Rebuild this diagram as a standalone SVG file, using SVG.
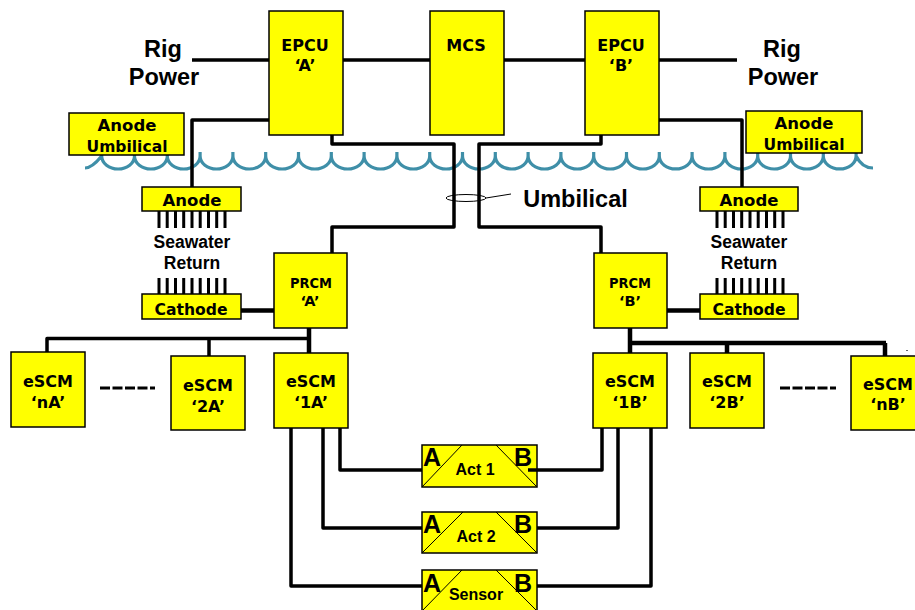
<svg xmlns="http://www.w3.org/2000/svg" width="915" height="610" viewBox="0 0 915 610">
<style>
.b{fill:#ffff00;stroke:#000;stroke-width:1.5}
.c{fill:none;stroke:#000;stroke-width:3.5;stroke-linejoin:round}
.c2{fill:none;stroke:#000;stroke-width:4.5}
.t{fill:none;stroke:#000;stroke-width:3}
.d{fill:none;stroke:#000;stroke-width:1}
.w{fill:none;stroke:#3f8fa8;stroke-width:3.2}
text{font-family:"DejaVu Sans",Verdana,sans-serif;font-weight:bold;text-anchor:middle;fill:#000;font-size:16px}
.h{font-family:"Liberation Sans",Arial,sans-serif}
.xl{font-size:23.500px}
.m{font-size:16px}
.r{font-size:17.500px}
.l{font-size:25px}
.s{font-size:14.500px}
.a{font-size:16.500px}
</style>
<rect width="915" height="610" fill="#fff"/>
<path id="water" class="w" d="M85 168Q92 168 101.700 156V152V156A16.400 13 0 0 0 134.500 156V152V156A16.400 13 0 0 0 167.300 156V152V156A16.400 13 0 0 0 200.100 156V152V156A16.400 13 0 0 0 232.900 156V152V156A16.400 13 0 0 0 265.700 156V152V156A16.400 13 0 0 0 298.500 156V152V156A16.400 13 0 0 0 331.300 156V152V156A16.400 13 0 0 0 364.100 156V152V156A16.400 13 0 0 0 396.900 156V152V156A16.400 13 0 0 0 429.700 156V152V156A16.400 13 0 0 0 462.500 156V152V156A16.400 13 0 0 0 495.300 156V152V156A16.400 13 0 0 0 528.100 156V152V156A16.400 13 0 0 0 560.900 156V152V156A16.400 13 0 0 0 593.700 156V152V156A16.400 13 0 0 0 626.500 156V152V156A16.400 13 0 0 0 659.300 156V152V156A16.400 13 0 0 0 692.100 156V152V156A16.400 13 0 0 0 724.900 156V152V156A16.400 13 0 0 0 757.700 156V152V156A16.400 13 0 0 0 790.500 156V152V156A16.400 13 0 0 0 823.300 156V152V156A16.400 13 0 0 0 856.100 156V152V156Q862 168 873 168"/>
<g id="connectors">
<path class="c" d="M192 60H269M343 60H430M504 60H585M659 60H737"/>
<path class="c" d="M269 120H192V187M659 120H742V187"/>
<path class="c" d="M332 135V144H454V227H332V253M601 135V144H479V227H601V253"/>
<path class="c2" d="M241 310.500H274M667 310.500H700M309 328V353"/>
<path class="c2" d="M630 328V353M630 343H886M727 343V354M885 343V356"/>
<path class="c" d="M47 352V338.500H309M209 338.500V356"/>
<path class="c" d="M340 428V470H422M323 428V528H422M291 428V586H422"/>
<path class="c" d="M528 470H602V428M537 528H618V428M537 586H651V428"/>
<path class="t" d="M159 211V228M167.200 211V228M175.500 211V228M183.700 211V228M192 211V228M200.200 211V228M208.500 211V228M216.700 211V228M225 211V228"/>
<path class="t" d="M159 278V294M167.200 278V294M175.500 278V294M183.700 278V294M192 278V294M200.200 278V294M208.500 278V294M216.700 278V294M225 278V294"/>
<path class="t" d="M717 211V228M725.200 211V228M733.500 211V228M741.700 211V228M750 211V228M758.200 211V228M766.500 211V228M774.700 211V228M783 211V228"/>
<path class="t" d="M717 278V294M725.200 278V294M733.500 278V294M741.700 278V294M750 278V294M758.200 278V294M766.500 278V294M774.700 278V294M783 278V294"/>
<path class="t" d="M100 388H155M780 388H836" stroke-dasharray="10 2.500"/>
<ellipse class="d" cx="466" cy="198" rx="20" ry="3.500"/>
<path class="d" d="M486 198L511 194"/>
</g>
<rect x="906" y="350" width="2" height="1" fill="#666"/>
<text class="h xl" x="163" y="57">Rig</text>
<text class="h xl" x="164" y="85">Power</text>
<text class="h xl" x="782" y="57">Rig</text>
<text class="h xl" x="783" y="85">Power</text>
<text class="h xl" x="575.500" y="207">Umbilical</text>
<g id="epcu-a"><rect class="b" x="269" y="11" width="74" height="124"/><text x="305" y="51">EPCU</text><text x="305" y="71">‘A’</text></g>
<g id="mcs"><rect class="b" x="430" y="11" width="74" height="124"/><text x="466" y="51">MCS</text></g>
<g id="epcu-b"><rect class="b" x="585" y="11" width="74" height="124"/><text x="621" y="51">EPCU</text><text x="621" y="71">‘B’</text></g>
<g id="anode-umb-a"><rect class="b" x="69" y="113" width="115" height="42"/><text class="a" x="127" y="131">Anode</text><text x="127" y="152" textLength="81" lengthAdjust="spacingAndGlyphs">Umbilical</text></g>
<g id="anode-umb-b"><rect class="b" x="746" y="111" width="116" height="42"/><text class="a" x="804" y="129">Anode</text><text x="804" y="150" textLength="81" lengthAdjust="spacingAndGlyphs">Umbilical</text></g>
<g id="anode-a"><rect class="b" x="142" y="187" width="99" height="24"/><text class="a" x="192" y="206">Anode</text></g>
<g id="anode-b"><rect class="b" x="700" y="187" width="98" height="24"/><text class="a" x="749" y="206">Anode</text></g>
<g id="seawater-a"><text class="h r" x="192" y="248">Seawater</text><text class="h r" x="192" y="269">Return</text></g>
<g id="seawater-b"><text class="h r" x="749" y="248">Seawater</text><text class="h r" x="749" y="269">Return</text></g>
<g id="cathode-a"><rect class="b" x="142" y="294" width="99" height="25"/><text x="191" y="315" textLength="73" lengthAdjust="spacingAndGlyphs" class="a">Cathode</text></g>
<g id="cathode-b"><rect class="b" x="700" y="294" width="98" height="25"/><text x="749" y="315" textLength="73" lengthAdjust="spacingAndGlyphs" class="a">Cathode</text></g>
<g id="prcm-a"><rect class="b" x="274" y="253" width="73" height="75"/><text class="s" x="311" y="288" textLength="42" lengthAdjust="spacingAndGlyphs">PRCM</text><text class="s" x="310" y="306">‘A’</text></g>
<g id="prcm-b"><rect class="b" x="594" y="253" width="73" height="75"/><text class="s" x="630" y="288" textLength="42" lengthAdjust="spacingAndGlyphs">PRCM</text><text class="s" x="630" y="306">‘B’</text></g>
<g id="escm-na"><rect class="b" x="11" y="352" width="74" height="75"/><text x="48" y="387">eSCM</text><text x="48" y="408">‘nA’</text></g>
<g id="escm-2a"><rect class="b" x="171" y="356" width="74" height="74"/><text x="208" y="391">eSCM</text><text x="208" y="412">‘2A’</text></g>
<g id="escm-1a"><rect class="b" x="274" y="353" width="74" height="75"/><text x="311" y="387">eSCM</text><text x="311" y="408">‘1A’</text></g>
<g id="escm-1b"><rect class="b" x="593" y="353" width="74" height="75"/><text x="630" y="387">eSCM</text><text x="630" y="408">‘1B’</text></g>
<g id="escm-2b"><rect class="b" x="690" y="353" width="74" height="75"/><text x="727" y="387">eSCM</text><text x="727" y="408">‘2B’</text></g>
<g id="escm-nb"><rect class="b" x="851" y="356" width="74" height="74"/><text x="888" y="390">eSCM</text><text x="888" y="410">‘nB’</text></g>
<g id="act1"><rect class="b" x="422" y="445" width="115" height="42"/><path class="d" d="M422 487L462 445M496 445L537 487"/><text class="h l" x="432" y="466">A</text><text class="h l" x="523" y="466">B</text><text class="h m" x="475" y="475">Act 1</text></g>
<path class="c" d="M528 470H537"/>
<g id="act2"><rect class="b" x="422" y="512" width="115" height="41"/><path class="d" d="M422 553L463 512M496 512L537 553"/><text class="h l" x="432" y="533">A</text><text class="h l" x="523" y="533">B</text><text class="h m" x="476" y="542">Act 2</text></g>
<g id="sensor"><rect class="b" x="422" y="570" width="115" height="50"/><path class="d" d="M422 611L462 570M496 570L537 611"/><text class="h l" x="432" y="592">A</text><text class="h l" x="523" y="592">B</text><text class="h m" x="476" y="600">Sensor</text></g>
</svg>
